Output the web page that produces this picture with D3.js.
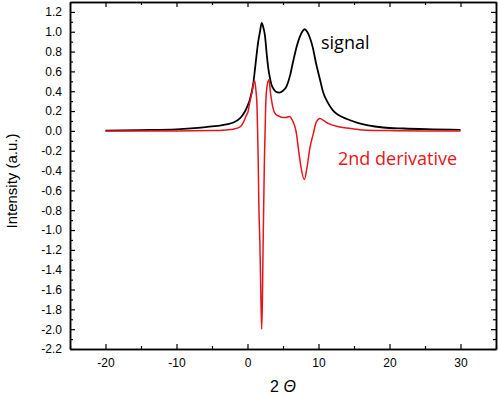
<!DOCTYPE html>
<html>
<head>
<meta charset="utf-8">
<script src="https://cdn.jsdelivr.net/npm/d3@7"></script>
<style>
  body { margin: 0; background: #fff; }
  text { font-family: "Liberation Sans", Arial, sans-serif; }
</style>
</head>
<body>
<svg id="chart" width="498" height="397"></svg>
<script>
// signal curve
var signalX = [-20, -15, -10, -7, -5, -3.9, -3, -2, -1, -0.6, 0, 0.35, 0.8, 1.05, 1.3, 1.52, 1.76, 2.0, 2.2, 2.46, 2.7, 2.93, 3.2, 3.4, 3.7, 4.0, 4.47, 5.0, 5.5, 6.0, 6.44, 7.0, 7.38, 7.7, 8.05, 8.4, 8.79, 9.2, 9.6, 10.2, 10.7, 11.2, 12.0, 12.7, 14.0, 15.4, 17.0, 19.1, 22.0, 26.0, 30.0];
var signalY = [0.003, 0.008, 0.016, 0.03, 0.045, 0.052, 0.065, 0.084, 0.132, 0.168, 0.25, 0.32, 0.47, 0.62, 0.78, 0.905, 1.0, 1.09, 1.05, 0.96, 0.78, 0.63, 0.52, 0.46, 0.42, 0.395, 0.386, 0.405, 0.45, 0.56, 0.705, 0.87, 0.95, 1.0, 1.025, 1.0, 0.94, 0.84, 0.7, 0.52, 0.38, 0.3, 0.21, 0.165, 0.12, 0.084, 0.055, 0.034, 0.024, 0.016, 0.01];

// 2nd derivative curve
var derivX = [-20, -10, -5, -3, -2, -1.05, -0.6, -0.2, 0.1, 0.35, 0.6, 0.82, 1.0, 1.2, 1.34, 1.45, 1.52, 1.6, 1.75, 1.88, 2.0, 2.1, 2.17, 2.25, 2.38, 2.56, 2.75, 3.02, 3.26, 3.63, 4.0, 4.4, 5.0, 5.4, 5.9, 6.3, 6.9, 7.15, 7.5, 8.0, 8.4, 8.8, 9.26, 9.7, 10.2, 10.8, 11.5, 13.0, 15.0, 16.8, 20.0, 25.0, 30.0];
var derivY = [0, 0, 0.003, 0.01, 0.017, 0.04, 0.084, 0.15, 0.2, 0.3, 0.38, 0.47, 0.505, 0.4, 0.25, -0.1, -0.35, -0.75, -1.15, -1.65, -2.0, -1.7, -1.3, -0.9, -0.3, 0.25, 0.45, 0.515, 0.37, 0.22, 0.165, 0.15, 0.135, 0.135, 0.145, 0.11, -0.03, -0.17, -0.35, -0.49, -0.36, -0.17, -0.03, 0.09, 0.125, 0.1, 0.07, 0.04, 0.02, 0.007, 0.003, 0, 0];

var xTicks = [-20, -10, 0, 10, 20, 30];
var xMinor = [-25, -15, -5, 5, 15, 25, 35];
var yTicks = [-2.2, -2.0, -1.8, -1.6, -1.4, -1.2, -1.0, -0.8, -0.6, -0.4, -0.2, 0.0, 0.2, 0.4, 0.6, 0.8, 1.0, 1.2];
var yMinor = [-2.1, -1.9, -1.7, -1.5, -1.3, -1.1, -0.9, -0.7, -0.5, -0.3, -0.1, 0.1, 0.3, 0.5, 0.7, 0.9, 1.1];

var plotLeft = 70, plotRight = 496, plotTop = 2, plotBottom = 349;
var svg = d3.select("#chart");

var x = d3.scaleLinear().domain([-25, 35]).range([plotLeft, plotRight]);
var y = d3.scaleLinear().domain([-2.2, 1.3]).range([plotBottom, plotTop]);

// plain hyphen minus, like the original
var fmtX = function(d) { return d3.format("d")(d).replace("\u2212", "-"); };
var fmtY = function(d) { return d3.format(".1f")(d).replace("\u2212", "-"); };

var line = d3.line()
  .x(function(d) { return x(d[0]); })
  .y(function(d) { return y(d[1]); })
  .curve(d3.curveMonotoneX);

svg.append("path")
  .datum(d3.zip(signalX, signalY))
  .attr("d", line)
  .attr("fill", "none")
  .attr("stroke", "#000")
  .attr("stroke-width", 1.8);

svg.append("path")
  .datum(d3.zip(derivX, derivY))
  .attr("d", line)
  .attr("fill", "none")
  .attr("stroke", "#e8141b")
  .attr("stroke-width", 1.5);

// axes, ticks pointing inward on all four sides
function styleAxis(g) {
  g.selectAll("path.domain").attr("stroke", "#000").attr("stroke-width", 1.5);
  g.selectAll(".tick line").attr("stroke", "#000").attr("stroke-width", 1.2);
  g.selectAll("text").attr("fill", "#000").style("font-size", "12px");
}

svg.append("g").attr("transform", "translate(0," + plotBottom + ")")
  .call(d3.axisBottom(x).tickValues(xTicks).tickSize(-5).tickSizeOuter(0).tickPadding(9.5).tickFormat(fmtX))
  .call(styleAxis);
svg.append("g").attr("transform", "translate(0," + plotBottom + ")")
  .call(d3.axisBottom(x).tickValues(xMinor).tickSize(-3).tickSizeOuter(0).tickFormat(""))
  .call(styleAxis);
svg.append("g").attr("transform", "translate(0," + plotTop + ")")
  .call(d3.axisTop(x).tickValues(xTicks).tickSize(-5).tickSizeOuter(0).tickFormat(""))
  .call(styleAxis);
svg.append("g").attr("transform", "translate(0," + plotTop + ")")
  .call(d3.axisTop(x).tickValues(xMinor).tickSize(-3).tickSizeOuter(0).tickFormat(""))
  .call(styleAxis);

svg.append("g").attr("transform", "translate(" + plotLeft + ",0)")
  .call(d3.axisLeft(y).tickValues(yTicks).tickSize(-5).tickSizeOuter(0).tickPadding(8).tickFormat(fmtY))
  .call(styleAxis);
svg.append("g").attr("transform", "translate(" + plotLeft + ",0)")
  .call(d3.axisLeft(y).tickValues(yMinor).tickSize(-3).tickSizeOuter(0).tickFormat(""))
  .call(styleAxis);
svg.append("g").attr("transform", "translate(" + plotRight + ",0)")
  .call(d3.axisRight(y).tickValues(yTicks).tickSize(-5).tickSizeOuter(0).tickFormat(""))
  .call(styleAxis);
svg.append("g").attr("transform", "translate(" + plotRight + ",0)")
  .call(d3.axisRight(y).tickValues(yMinor).tickSize(-3).tickSizeOuter(0).tickFormat(""))
  .call(styleAxis);

// axis titles
svg.append("text")
  .attr("transform", "translate(17,181) rotate(-90)")
  .attr("text-anchor", "middle")
  .style("font-size", "15px")
  .text("Intensity (a.u.)");

var xt = svg.append("text")
  .attr("x", (plotLeft + plotRight) / 2)
  .attr("y", 392)
  .attr("text-anchor", "middle")
  .style("font-size", "16px");
xt.append("tspan").text("2 ");
xt.append("tspan").style("font-style", "italic").text("\u0398");

// curve labels
svg.append("text")
  .attr("x", 321).attr("y", 49)
  .style("font-family", "'Open Sans', sans-serif")
  .style("font-size", "18px")
  .attr("fill", "#000")
  .text("signal");

svg.append("text")
  .attr("x", 338).attr("y", 165)
  .style("font-family", "'Open Sans', sans-serif")
  .style("font-size", "18px")
  .attr("fill", "#e8141b")
  .text("2nd derivative");
</script>
</body>
</html>
